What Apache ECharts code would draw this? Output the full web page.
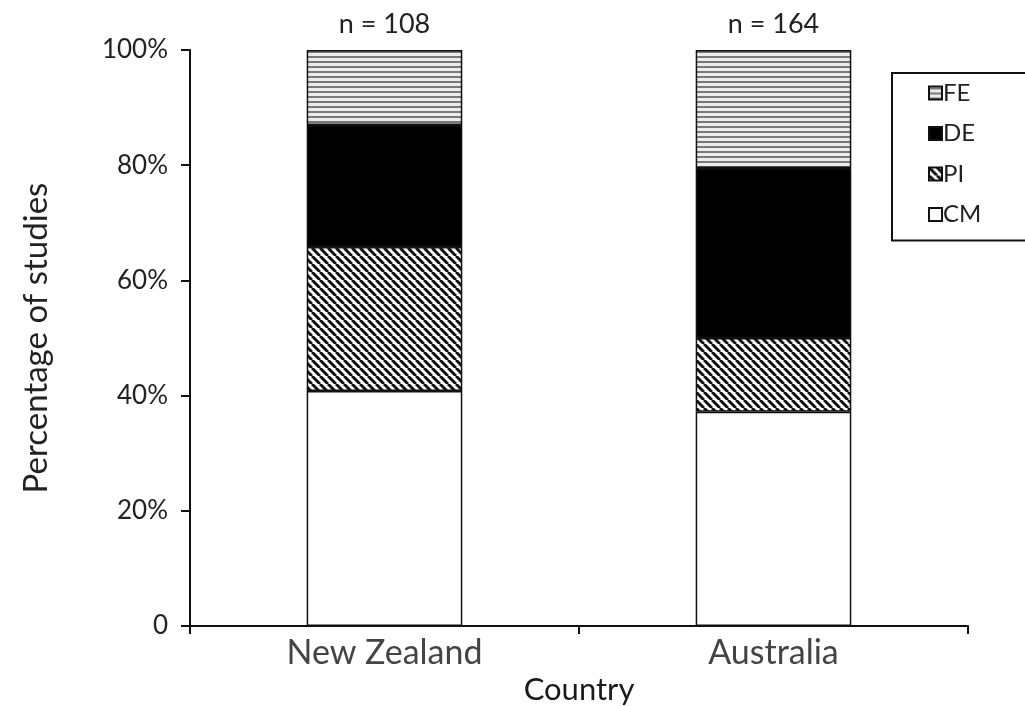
<!DOCTYPE html>
<html><head><meta charset="utf-8">
<script src="https://cdn.jsdelivr.net/npm/echarts@6/dist/echarts.min.js"></script>
<style>html,body{margin:0;padding:0;background:#fff}#c{width:1025px;height:706px}</style>
</head><body><div id="c"></div>
<script>
const categories = ['New Zealand', 'Australia'];
const nLabels = ['n = 108', 'n = 164'];
const CM = [40.8, 37.2];
const PI = [25.0, 12.8];
const DE = [21.2, 29.5];
const FE = [13.0, 20.5];
const yTicks = {0:'0',20:'20%',40:'40%',60:'60%',80:'80%',100:'100%'};

function hPattern(){
  const c=document.createElement('canvas');c.width=6;c.height=5;
  const g=c.getContext('2d');g.fillStyle='#ececec';g.fillRect(0,0,6,5);
  g.fillStyle='#7a7a7a';g.fillRect(0,1,6,2);return c;
}
function dPattern(){
  const s=8;const c=document.createElement('canvas');c.width=s;c.height=s;
  const g=c.getContext('2d');g.fillStyle='#fff';g.fillRect(0,0,s,s);
  g.strokeStyle='#111';g.lineWidth=3;
  [[-s,0],[0,0],[s,0]].forEach(([dx])=>{g.beginPath();g.moveTo(dx,0);g.lineTo(dx+s,s);g.stroke();});
  return c;
}
const fePat={image:hPattern(),repeat:'repeat'};
const piPat={image:dPattern(),repeat:'repeat'};
const FONT='Lato';
const border={borderColor:'#111',borderWidth:1.5};
const chart=echarts.init(document.getElementById('c'),null,{renderer:'canvas'});
chart.setOption({
  animation:false,
  textStyle:{fontFamily:FONT},
  grid:{left:190,right:57,top:50,bottom:80,containLabel:false,outerBoundsMode:'none'},
  legend:{
    orient:'vertical',left:892,top:73,
    data:['FE','DE','PI','CM'],
    itemWidth:13,itemHeight:13,itemGap:16.5,
    padding:[8,46,14,36],
    borderColor:'#111',borderWidth:2,backgroundColor:'#fff',
    textStyle:{fontSize:24,lineHeight:24,color:'#222',fontFamily:FONT,padding:[0,0,0,-4]},
    icon:'rect'
  },
  xAxis:{
    type:'category',data:categories,
    name:'Country',nameLocation:'middle',nameGap:48,
    nameTextStyle:{fontSize:31,color:'#1a1a1a',fontFamily:FONT},
    axisLine:{lineStyle:{color:'#111',width:2}},
    axisTick:{show:true,length:8,lineStyle:{color:'#111',width:2}},
    axisLabel:{fontSize:34,color:'#444',margin:10,fontFamily:FONT}
  },
  yAxis:{
    type:'value',min:0,max:100,interval:20,
    name:'Percentage of studies',nameLocation:'middle',nameGap:137,nameRotate:90,
    nameTextStyle:{fontSize:33,color:'#222',fontFamily:FONT},
    axisLine:{show:true,lineStyle:{color:'#111',width:2}},
    axisTick:{show:true,length:9,lineStyle:{color:'#111',width:2}},
    axisLabel:{fontSize:26,color:'#222',margin:22,fontFamily:FONT,formatter:v=>yTicks[v]},
    splitLine:{show:false}
  },
  series:[
    {name:'CM',type:'bar',stack:'a',barWidth:'40%',data:CM,itemStyle:Object.assign({color:'#fff'},border)},
    {name:'PI',type:'bar',stack:'a',data:PI,itemStyle:Object.assign({color:piPat},border)},
    {name:'DE',type:'bar',stack:'a',data:DE,itemStyle:Object.assign({color:'#000'},border)},
    {name:'FE',type:'bar',stack:'a',data:FE,itemStyle:Object.assign({color:fePat},border),
      label:{show:true,position:'top',distance:12,fontSize:27,color:'#222',fontFamily:FONT,
        formatter:p=>nLabels[p.dataIndex]}}
  ]
});
</script></body></html>
